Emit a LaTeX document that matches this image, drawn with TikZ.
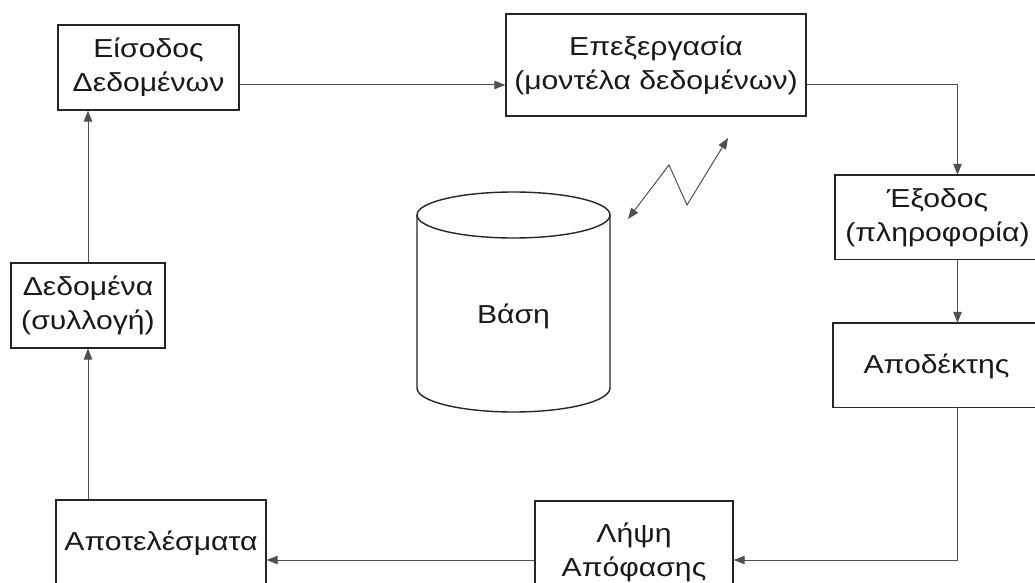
\documentclass[tikz,border=0pt]{standalone}
\usepackage{fontspec}
\setmainfont{Liberation Sans}[FakeStretch=1.16]
\usetikzlibrary{arrows.meta}
\definecolor{boxline}{HTML}{262626}
\definecolor{linkline}{HTML}{505050}
\begin{document}
\begin{tikzpicture}[x=1pt,y=-1pt,
  every node/.style={font=\fontsize{26}{34}\selectfont, text=black!90},
  stepbox/.style={draw=boxline, line width=1.4pt, align=center, inner sep=0pt},
  openbox/.style={draw=none, inner sep=0pt},
  boxedge/.style={draw=boxline, line width=1.4pt},
  caption/.style={align=center, inner sep=0pt},
  link/.style={draw=linkline, line width=1pt},
  arr/.style={link, -{Triangle[length=11pt,width=8.5pt]}},
  dblarr/.style={link, {Triangle[length=11pt,width=8.5pt]}-{Triangle[length=11pt,width=8.5pt]}},
]
\useasboundingbox (0,0) rectangle (1035,583);
\fill[white] (0,0) rectangle (1035,583);
\clip (0,0) rectangle (1035,583);

% process boxes
\node[stepbox, minimum width=181pt, minimum height=85pt] (in) at (148.5,67.5) {Είσοδος\\Δεδομένων};
\node[stepbox, minimum width=300pt, minimum height=102pt] (proc) at (656,65) {Επεξεργασία\\(μοντέλα δεδομένων)};
\node[stepbox, minimum width=198pt, minimum height=102pt] (dec) at (634,552) {Λήψη\\Απόφασης};
\node[stepbox, minimum width=210pt, minimum height=86pt] (res) at (161,543) {Αποτελέσματα};
\node[stepbox, minimum width=154pt, minimum height=85pt] (data) at (88,305.5) {Δεδομένα\\(συλλογή)};

% the two boxes on the right run past the edge of the sheet: no right side
\node[openbox, minimum width=245pt, minimum height=84pt] (out) at (957.5,217) {};
\draw[boxedge] (out.north east) -- (out.north west) -- (out.south west) -- (out.south east);
\node[caption] (outtext) at (937.5,218) {Έξοδος\\(πληροφορία)};
\node[openbox, minimum width=248pt, minimum height=84pt] (recv) at (957,365) {};
\draw[boxedge] (recv.north east) -- (recv.north west) -- (recv.south west) -- (recv.south east);
\node[caption] (recvtext) at (936.5,366) {Αποδέκτης};

% database cylinder
\draw[boxedge] (513.5,215) ellipse [x radius=96.5, y radius=23];
\draw[boxedge] (417,215) -- (417,388)
  arc[start angle=180, end angle=0, x radius=96.5, y radius=24] -- (610,215);
\node[anchor=base] (db) at (513.5,323) {Βάση};

% flow connectors
\draw[arr] ([yshift=-17.5pt]in.east) -- ([yshift=-17.5pt]in.east -| proc.west);
\draw[arr] ([yshift=-20pt]proc.east) -| (out.north);
\draw[arr] (out.south) -- (out.south |- recv.north);
\draw[arr] (recv.south) |- ([yshift=-8pt]dec.east);
\draw[arr] ([yshift=-8pt]dec.west) -- ([yshift=-8pt]dec.west -| res.east);
\draw[arr] (res.north -| data.south) -- (data.south);
\draw[arr] (data.north) -- (data.north |- in.south);

% link between database and processing
\coordinate (zA) at (628,219);
\coordinate (zB) at (728,138);
\draw[dblarr] (zA) -- (669,165) -- (687,205) -- (zB);
\end{tikzpicture}
\end{document}
